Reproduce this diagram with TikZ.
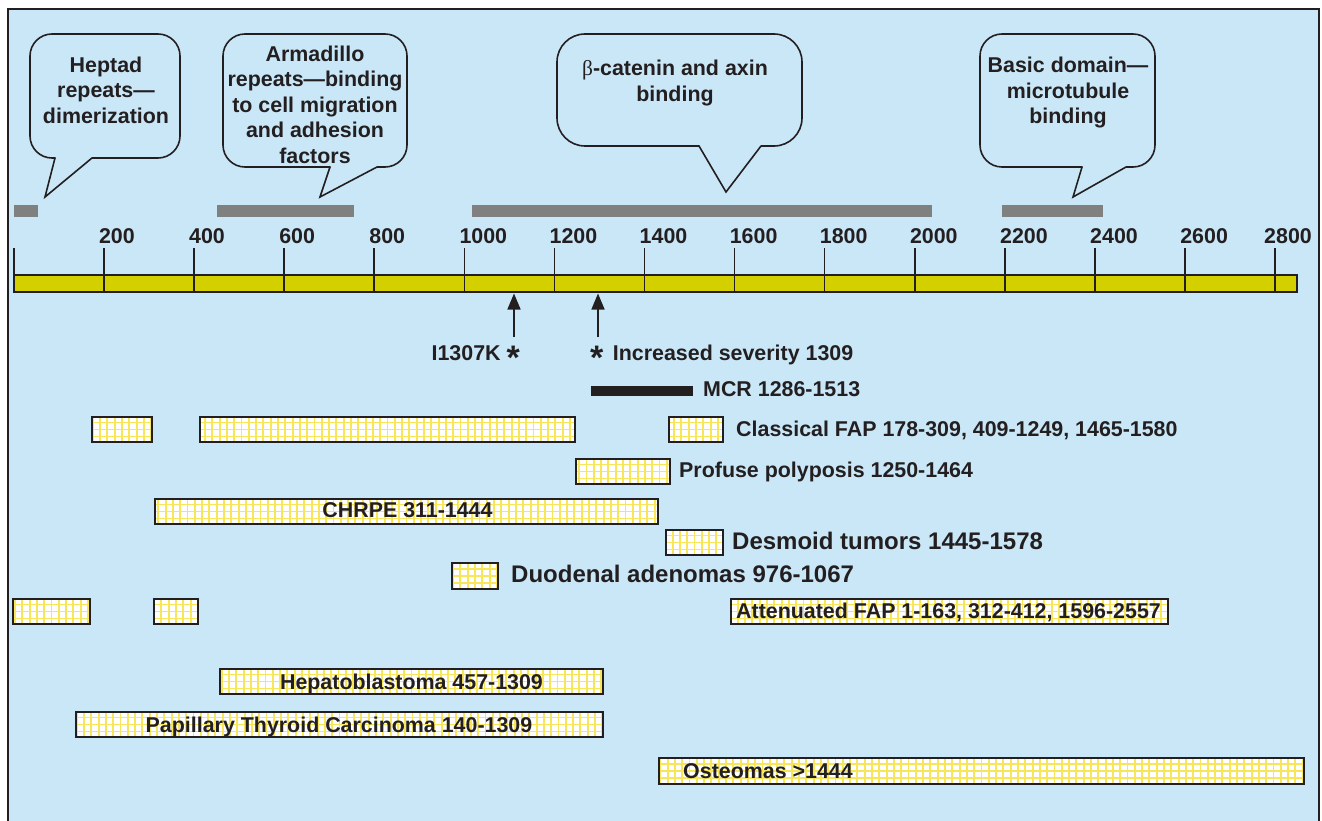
\documentclass[tikz,border=0pt]{standalone}
\usepackage{fontspec}
\setmainfont{Liberation Sans}
\newfontfamily\serifbeta{Liberation Serif}
\usetikzlibrary{arrows.meta}
\definecolor{bgblue}{HTML}{CAE7F8}
\definecolor{axisyel}{HTML}{D4D000}
\definecolor{domgray}{HTML}{808080}
\definecolor{gridyel}{HTML}{F8E65A}
\definecolor{inkc}{HTML}{231F20}
\tikzset{
  lbl/.style={font=\fontsize{21.4}{25.5}\selectfont\bfseries, inner sep=0pt, text=inkc},
  biglbl/.style={font=\fontsize{24}{28}\selectfont\bfseries, inner sep=0pt, text=inkc},
  bubble/.style={draw=inkc, line width=1.6pt, fill=bgblue},
  bubbleline/.style={draw=inkc, line width=1.6pt, line join=miter},
  gbox/.style={draw=inkc, line width=1.8pt, fill=white, rectangle, inner sep=0pt,
    path picture={\draw[gridyel, line width=1.9pt, xstep=7.3pt, ystep=7pt]
      (path picture bounding box.south west) grid (path picture bounding box.north east);}},
  dombar/.style={fill=domgray, rectangle, inner sep=0pt},
  axtick/.style={draw=inkc, line width=1.5pt},
  ptr/.style={-{Triangle[width=13pt,length=16pt]}, line width=1.5pt, draw=inkc}
}
\newcommand\gridbox[5]{\node[gbox, minimum width={(#4-#2)*1pt}, minimum height={(#5-#3)*1pt}] (#1) at ({(#2+#4)/2},{(#3+#5)/2}) {};}
\newcommand\dombox[5]{\node[dombar, minimum width={(#4-#2)*1pt}, minimum height={(#5-#3)*1pt}] (#1) at ({(#2+#4)/2},{(#3+#5)/2}) {};}
\newcommand\speech[9]{%
  \draw[bubble, rounded corners=#9] (#1,#2) rectangle (#3,#4);
  \fill[bgblue] (#5+0.5,#4-8) -- (#6-0.5,#4-8) -- (#6-0.5,#4) -- (#7,#8) -- (#5+0.5,#4) -- cycle;
  \draw[bubbleline] (#5,#4) -- (#7,#8) -- (#6,#4);}
\newcommand\bigstar{\smash{\raisebox{-9.5pt}{\fontsize{34}{34}\selectfont *}}}
\begin{document}
\begin{tikzpicture}[x=1pt,y=-1pt]
\useasboundingbox (0,0) rectangle (1322,821);
\fill[white] (0,0) rectangle (1322,821);
\fill[bgblue] (8,9) rectangle (1319,821);
\draw[inkc, line width=2.6pt] (8,822) -- (8,9) -- (1319,9) -- (1319,822);

% speech bubbles
\speech{30}{34}{180}{158}{55}{92}{45}{197}{22pt}
\speech{223}{34}{407}{167}{330}{377}{320}{197}{22pt}
\speech{557}{34}{802}{146}{699}{761}{726}{192}{28pt}
\speech{980}{34}{1155}{167}{1082}{1126}{1073}{197}{22pt}

\node[lbl, align=center] (heptad) at (106,90) {Heptad\\repeats—\\dimerization};
\node[lbl, align=center] (armadillo) at (315,104.5) {Armadillo\\repeats—binding\\to cell migration\\and adhesion\\factors};
\node[lbl, align=center] (betacat) at (675,83) {{\serifbeta\mdseries β}-catenin and axin\\binding};
\node[lbl, align=center] (basic) at (1068,93) {Basic domain—\\microtubule\\binding};

% domain bars
\dombox{d1}{14}{205}{38}{217}
\dombox{d2}{217}{205}{354}{217}
\dombox{d3}{472}{205}{932}{217}
\dombox{d4}{1002}{205}{1103}{217}

% axis
\node[fill=axisyel, draw=inkc, line width=1.6pt, minimum width=1283pt, minimum height=17pt, inner sep=0pt] (axis) at (655.5,283.5) {};
\foreach \k in {0,...,14} {\draw[axtick] ({13.8+\k*90.1},248) -- ({13.8+\k*90.1},292);}
\foreach \k in {1,...,13} {\pgfmathtruncatemacro\lab{\k*200}
  \node[lbl, anchor=base west] (tl\k) at ({13.8+\k*90.1-5},243) {\lab};}
\node[lbl, anchor=base west] (tl14) at (1264,243) {2800};

% mutation arrows
\coordinate (a1s) at (514,337); \coordinate (a1e) at (514,293.5);
\coordinate (a2s) at (598,337); \coordinate (a2e) at (598,293.5);
\draw[ptr] (a1s) -- (a1e);
\draw[ptr] (a2s) -- (a2e);
\node[lbl, anchor=base east] (i1307) at (520,360) {I1307K \bigstar};
\node[lbl, anchor=base west] (sev) at (590,360) {\bigstar\ \,Increased severity 1309};

% MCR
\node[fill=inkc, inner sep=0pt, minimum width=102pt, minimum height=10pt] (mcr) at (642,391) {};
\node[lbl, anchor=base west] (mcrl) at (703,396) {MCR 1286-1513};

% phenotype boxes
\gridbox{cf1}{92}{417}{152}{442}
\gridbox{cf2}{200}{417}{575}{442}
\gridbox{cf3}{669}{417}{723}{442}
\node[lbl, anchor=base west] (cfl) at (736,436) {Classical FAP 178-309, 409-1249, 1465-1580};

\gridbox{pp}{576}{459}{670}{484}
\node[lbl, anchor=base west] (ppl) at (679,477) {Profuse polyposis 1250-1464};

\gridbox{ch}{155}{499}{658}{524}
\node[lbl, anchor=base] (chl) at (407.5,517) {CHRPE 311-1444};

\gridbox{de}{666}{530}{723}{555}
\node[biglbl, anchor=base west] (del) at (732,549) {Desmoid tumors 1445-1578};

\gridbox{du}{452}{563}{498}{589}
\node[biglbl, anchor=base west] (dul) at (511,582) {Duodenal adenomas 976-1067};

\gridbox{af1}{13}{599}{90}{624}
\gridbox{af2}{154}{599}{198}{624}
\gridbox{af3}{731}{599}{1168}{624}
\node[lbl, anchor=base west] (afl) at (736,618) {Attenuated FAP 1-163, 312-412, 1596-2557};

\gridbox{hb}{220}{669}{603}{694}
\node[lbl, anchor=base] (hbl) at (411.5,689) {Hepatoblastoma 457-1309};

\gridbox{pt}{76}{712}{603}{737}
\node[lbl, anchor=base] (ptl) at (339,732) {Papillary Thyroid Carcinoma 140-1309};

\gridbox{os}{659}{758}{1304}{784}
\node[lbl, anchor=base west] (osl) at (683,778) {Osteomas >1444};
\end{tikzpicture}
\end{document}
